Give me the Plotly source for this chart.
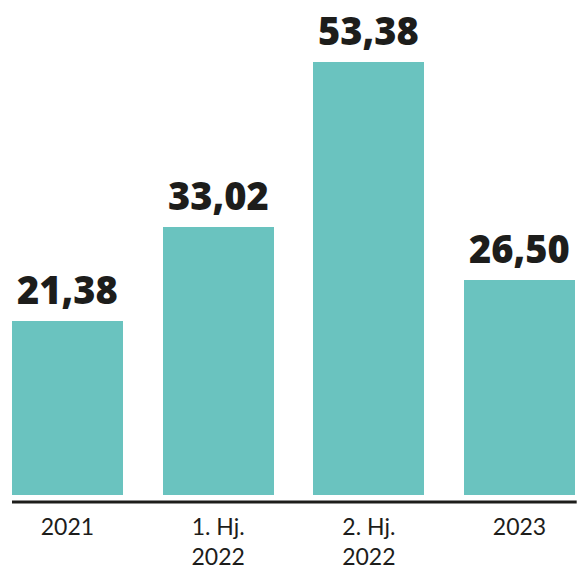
import plotly.graph_objects as go

categories = ["2021", "1. Hj.<br>2022", "2. Hj.<br>2022", "2023"]
values = [21.38, 33.02, 53.38, 26.50]
value_labels = [f"{v:.2f}".replace(".", ",") for v in values]

bar_color = "#6AC3BF"
text_color = "#1d1d1b"

fig = go.Figure()
fig.add_trace(go.Bar(
    x=list(range(len(categories))),
    y=values,
    width=0.737,
    marker=dict(color=bar_color, line=dict(width=0)),
    hoverinfo="skip",
))

for i, (v, lab) in enumerate(zip(values, value_labels)):
    fig.add_annotation(
        x=i, y=v, text=lab, showarrow=False,
        xanchor="center", yanchor="bottom", yshift=4,
        font=dict(family="Open Sans", size=38, color=text_color, weight=800),
    )

fig.add_shape(
    type="line", xref="paper", yref="paper",
    x0=0, x1=1.003, y0=-7 / 487, y1=-7 / 487,
    line=dict(color=text_color, width=3),
)

fig.update_layout(
    width=583, height=581,
    margin=dict(l=12, r=8, t=8, b=86),
    plot_bgcolor="white", paper_bgcolor="white",
    showlegend=False,
    bargap=0,
    xaxis=dict(
        range=[-0.368, 3.368],
        tickmode="array",
        tickvals=list(range(len(categories))),
        ticktext=categories,
        showgrid=False, zeroline=False, showline=False,
        ticks="", ticklabelstandoff=16,
        tickfont=dict(family="Lato", size=23, color=text_color),
        fixedrange=True,
    ),
    yaxis=dict(
        range=[0, 60],
        visible=False,
        showgrid=False, zeroline=False,
        fixedrange=True,
    ),
)

fig.write_html(
    "out.html",
    config={"displayModeBar": False, "staticPlot": True},
    post_script="document.body.style.margin='0';document.body.style.overflow='hidden';",
)
